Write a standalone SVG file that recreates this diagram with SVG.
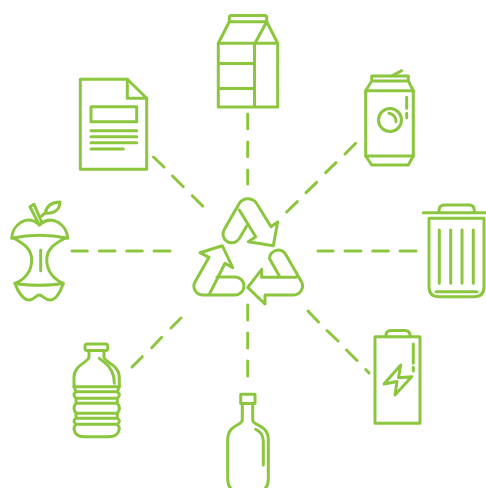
<svg xmlns="http://www.w3.org/2000/svg" width="486" height="488" viewBox="0 0 486 488">
<style>
.s{fill:none;stroke:#8cc63f;stroke-width:3;stroke-linecap:round;stroke-linejoin:round}
.d{fill:none;stroke:#8cc63f;stroke-width:3;stroke-linecap:round}
</style>
<rect width="486" height="488" fill="#fff"/>
<g id="connectors" class="d">
<path d="M247.7 114V128.7M247.7 142V156.5M247.7 170V184"/>
<path d="M247.7 305V320M247.7 333V348M247.7 361V376"/>
<path d="M72 251H87.3M99.3 251H115M126.7 251H142.3M154 251H170"/>
<path d="M318 251H333M345 251H361M372.7 251H388.3M400 251H416"/>
<path d="M355.7 143.3L345 154M336 162.7L325.7 172.7M316.7 182.3L306 192.7M297.3 201.7L286.7 212"/>
<path d="M153.5 157L164 167M172.5 176L183.3 186.7M192.3 195.7L202.7 206"/>
<path d="M181 318L171 328M161.7 337.3L151.7 347.7M142.3 356.7L132 367"/>
<path d="M308 311L318.5 322M327 330.5L338 341M346.5 350L357 360.5M365.7 369.5L369 373"/>
</g>
<g id="recycle" class="s">
<path d="M239.3 210L255.7 236.7L248.3 241.7L273.3 245.7L277.7 222L271 226.7L257 204A10.5 10.5 0 0 0 239.5 203L224.5 229A8.8 8.8 0 0 0 239 239L247.3 225"/>
<path d="M209.5 294L225 263.3L232.7 267.7L222.3 245.7L200 252.7L209 257.3L195 282A8.8 8.8 0 0 0 203 295L235 295A9 9 0 0 0 235 277L217 277"/>
<path d="M280 277.3L269.5 258.5A8.8 8.8 0 0 1 285 253.3L301 281A9 9 0 0 1 293.3 295L265 295L265 304L247.7 287.3L261.7 269.3L261.7 277.3L296 277.3"/>
</g>
<g id="carton" class="s">
<path d="M229.3 21.7V17.5Q229.3 15.5 231.3 15.5H264.7Q266.7 15.5 266.7 17.5V21.7Z"/>
<path d="M229.3 21.7L218.3 43.3H277.7L266.7 21.7L255 43.3"/>
<path d="M218.3 43.3V107H277.7V43.3M254.5 43.3V107M218.3 63.5H254.5M218.3 88.5H254.5"/>
</g>
<g id="can" class="s">
<path d="M371.7 81V76H408.3V81ZM371.7 81L365.7 90.7V156L371.7 165H408.3L413.3 156V90.7L408.3 81"/>
<path d="M365.7 90.7H413.3M365.7 156H413.3M391.7 76L401.7 70.7"/>
<circle cx="390" cy="120" r="11.5"/>
<path d="M389 113.3A8 8 0 0 1 396 121.7M406.7 97.3V108.3M406.7 113.3V117.7"/>
</g>
<g id="document" class="s">
<path d="M80.3 79.3H127.3L146.7 98.3V169.3H80.3Z"/>
<path d="M127.3 79.3V98.3H146.7"/>
<rect x="91" y="106.7" width="45.7" height="15"/>
<path d="M91 130.7H136.7M91 136.7H136.7M91 142.7H136.7M91 149H123.3"/>
</g>
<g id="apple" class="s">
<path d="M11.7 238.3C12 226 26 213 39.3 225C53 213 67 226 67.7 238.3C50 234.5 29 234.5 11.7 238.3Z"/>
<path d="M13.5 238C22 243 31.7 248 31.7 260C31.7 272 24 280 15 283.3C28 286 50 286 63.3 283.3C55 280 46.7 272 46.7 260C46.7 248 56 243 65.5 238"/>
<path d="M15 283.3C18 293 24 300 29 300C34 300 36 295 39.3 295C42.5 295 45 300 50 300C55 300 60 293 63.3 283.3M40.7 250V270.7"/>
<path d="M39.3 225L30 206.7L34 204.3L41.7 222"/>
<path d="M41.5 216L45 213.3C47 205 53 202 60 202C60 208 56 214 45 213.3"/>
</g>
<g id="trash" class="s">
<path d="M423.3 212.7H486M439 212.7V210.5Q439 205 444.5 205H469Q474.3 205 474.3 210.5V212.7"/>
<path d="M429 218.3H484V286.7Q484 296.7 474 296.7H439Q429 296.7 429 286.7Z"/>
<path d="M436 291.7H477M439.3 230V283.3M450.7 230V283.3M462 230V283.3M473.3 230V283.3"/>
</g>
<g id="battery" class="s">
<rect x="375" y="336.7" width="45" height="86.6"/>
<path d="M386 336.7V335.5Q386 330.5 391 330.5H405Q410 330.5 410 335.5V336.7M413.3 344V363.3M413.3 367.3V371"/>
<path d="M400.7 365L384 384L397 381.5L395 395L411.7 376.7L398.5 377.7Z"/>
</g>
<g id="water-bottle" class="s">
<path d="M87 344H105.7Q107.7 344 107.7 346V348.5Q107.7 350.5 105.7 350.5H87Q85 350.5 85 348.5V346Q85 344 87 344Z"/>
<path d="M89 350.5V357C89 362 74 365 74 377V386.7H119.3V377C119.3 365 104 362 104 357V350.5"/>
<path d="M74 386.7L76 391.7H117.3L119.3 386.7M76 391.7Q72 395 76 398.3H117.3Q121.5 395 117.3 391.7M76 398.3L76 403.3H117.3V398.3M76 403.3Q72 408 76 413.3H117.3Q121.5 408 117.3 403.3M76 413.3V418.3H117.3V413.3M76 418.3Q72 421 76 424.3H117.3Q121.5 421 117.3 418.3"/>
<path d="M76 424.3Q74 426 74 429Q75 436.7 84 436.7H109Q118 436.7 119.3 429Q119.3 426 117.3 424.3"/>
<path d="M99.3 358.3C105 363 114.3 368 114.3 383.3"/>
</g>
<g id="glass-bottle" class="s">
<rect x="240.7" y="394.3" width="14.3" height="9.2"/>
<path d="M242.3 403.5V420C242.3 426 227.7 424 227.7 440V478Q227.7 490 236 491H260Q268.3 490 268.3 478V440C268.3 424 252.7 426 252.7 420V403.5"/>
<path d="M255.7 429.3C260 431 263.3 435 263.3 441.7V465"/>
</g>
</svg>
